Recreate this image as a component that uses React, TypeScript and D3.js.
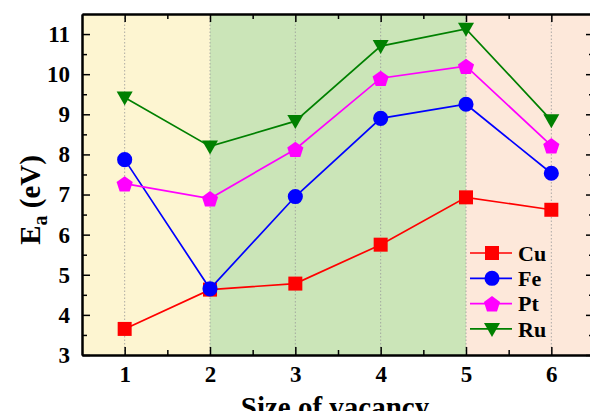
import { useEffect, useRef } from "react";
import * as d3 from "d3";

const sizes = [1, 2, 3, 4, 5, 6];
const cu = [3.65, 4.63, 4.78, 5.75, 6.93, 6.62];
const fe = [7.87, 4.65, 6.95, 8.9, 9.25, 7.53];
const pt = [7.27, 6.9, 8.13, 9.9, 10.2, 8.22];
const ru = [9.42, 8.2, 8.83, 10.7, 11.13, 8.85];
const yTicks = [3, 4, 5, 6, 7, 8, 9, 10, 11];

const series = [
  { name: "Cu", values: cu, color: "#ff0000", shape: "square" },
  { name: "Fe", values: fe, color: "#0000ff", shape: "circle" },
  { name: "Pt", values: pt, color: "#ff00ff", shape: "pentagon" },
  { name: "Ru", values: ru, color: "#008000", shape: "triangle" }
];

const bands = [
  { from: 0.5, to: 2, fill: "#fdf5d1" },
  { from: 2, to: 5, fill: "#cbe5b8" },
  { from: 5, to: 6.5, fill: "#fde8da" }
];

function markerPath(shape: string) {
  if (shape === "square") return "M-7,-7H7V7H-7Z";
  if (shape === "triangle") return "M-8,-6H8L0,8Z";
  if (shape === "pentagon") {
    const pts = d3.range(5).map((i) => {
      const a = -Math.PI / 2 + (i * 2 * Math.PI) / 5;
      return [8.5 * Math.cos(a), 8.5 * Math.sin(a) + 1];
    });
    return "M" + pts.map((p) => p.join(",")).join("L") + "Z";
  }
  return d3.symbol(d3.symbolCircle, 180)() as string;
}

export default function App() {
  const svgRef = useRef<SVGSVGElement>(null);

  useEffect(() => {
    const svg = d3.select(svgRef.current);
    svg.selectAll("*").remove();
    const width = 590;
    const height = 411;
    const margin = { top: 14, right: -4, bottom: 56, left: 82 };
    const font = "Liberation Serif, DejaVu Serif, serif";

    const x = d3.scaleLinear().domain([0.5, 6.5]).range([margin.left, width - margin.right]);
    const y = d3.scaleLinear().domain([3, 11.5]).range([height - margin.bottom, margin.top]);

    svg
      .append("g")
      .selectAll("rect")
      .data(bands)
      .join("rect")
      .attr("x", (d) => x(d.from))
      .attr("width", (d) => x(d.to) - x(d.from))
      .attr("y", y(11.5))
      .attr("height", y(3) - y(11.5))
      .attr("fill", (d) => d.fill);

    svg
      .append("g")
      .attr("stroke", "#999")
      .attr("stroke-width", 0.8)
      .attr("stroke-dasharray", "1.5,2")
      .selectAll("line")
      .data(sizes)
      .join("line")
      .attr("x1", (d) => x(d))
      .attr("x2", (d) => x(d))
      .attr("y1", y(11.5))
      .attr("y2", y(3));

    const xMinor = d3.range(1.5, 6.5, 1);
    const yMinor = d3.range(3.5, 11.5, 1);

    // tick marks point inward, so the label padding is measured from the spine
    const axes = [
      { axis: d3.axisBottom(x).tickValues(sizes).tickFormat(d3.format("d")), t: `translate(0,${y(3)})`, pad: 11 },
      { axis: d3.axisBottom(x).tickValues(xMinor).tickFormat(() => ""), t: `translate(0,${y(3)})`, minor: true },
      { axis: d3.axisTop(x).tickValues(sizes).tickFormat(() => ""), t: `translate(0,${y(11.5)})` },
      { axis: d3.axisTop(x).tickValues(xMinor).tickFormat(() => ""), t: `translate(0,${y(11.5)})`, minor: true },
      { axis: d3.axisLeft(y).tickValues(yTicks).tickFormat(d3.format("d")), t: `translate(${x(0.5)},0)`, pad: 12 },
      { axis: d3.axisLeft(y).tickValues(yMinor).tickFormat(() => ""), t: `translate(${x(0.5)},0)`, minor: true },
      { axis: d3.axisRight(y).tickValues(yTicks).tickFormat(() => ""), t: `translate(${x(6.5)},0)` },
      { axis: d3.axisRight(y).tickValues(yMinor).tickFormat(() => ""), t: `translate(${x(6.5)},0)`, minor: true }
    ];

    axes.forEach((a) => {
      const len = a.minor ? 5 : 8;
      const g = svg
        .append("g")
        .attr("transform", a.t)
        .call(a.axis.tickSize(-len).tickSizeOuter(0).tickPadding(a.pad || 8));
      g.attr("font-family", font).attr("font-size", 23).attr("font-weight", "bold");
      g.selectAll(".tick line").attr("stroke", "#000").attr("stroke-width", 1.5);
      g.select(".domain").attr("stroke", "#000").attr("stroke-width", 2);
      g.selectAll("text").attr("fill", "#000");
    });

    const line = d3
      .line<number>()
      .x((_, i) => x(sizes[i]))
      .y((d) => y(d));

    series.forEach((s) => {
      svg
        .append("path")
        .attr("d", line(s.values))
        .attr("fill", "none")
        .attr("stroke", s.color)
        .attr("stroke-width", 1.7);
      svg
        .append("g")
        .selectAll("path")
        .data(s.values)
        .join("path")
        .attr("transform", (d, i) => `translate(${x(sizes[i])},${y(d)})`)
        .attr("d", markerPath(s.shape))
        .attr("fill", s.color);
    });

    const legend = svg.append("g").attr("transform", "translate(470,253)");
    series.forEach((s, i) => {
      const row = legend.append("g").attr("transform", `translate(0,${i * 25.3})`);
      row.append("line").attr("x1", 0).attr("x2", 42).attr("stroke", s.color).attr("stroke-width", 1.7);
      row.append("path").attr("transform", "translate(22,0)").attr("d", markerPath(s.shape)).attr("fill", s.color);
      row
        .append("text")
        .attr("x", 48)
        .attr("dy", "0.35em")
        .attr("font-family", font)
        .attr("font-weight", "bold")
        .attr("font-size", 22)
        .text(s.name);
    });

    svg
      .append("text")
      .attr("x", 335)
      .attr("y", 417)
      .attr("text-anchor", "middle")
      .attr("font-family", font)
      .attr("font-weight", "bold")
      .attr("font-size", 29)
      .text("Size of vacancy");

    const yl = svg
      .append("text")
      .attr("transform", "translate(40,200) rotate(-90)")
      .attr("text-anchor", "middle")
      .attr("font-family", font)
      .attr("font-weight", "bold")
      .attr("font-size", 29);
    yl.append("tspan").text("E");
    yl.append("tspan").attr("dy", 7).attr("font-size", 20).text("a");
    yl.append("tspan").attr("dy", -7).text(" (eV)");
  }, []);

  return (
    <svg
      ref={svgRef}
      width={590}
      height={411}
      style={{ position: "absolute", left: 0, top: 0, background: "#fff" }}
    />
  );
}
